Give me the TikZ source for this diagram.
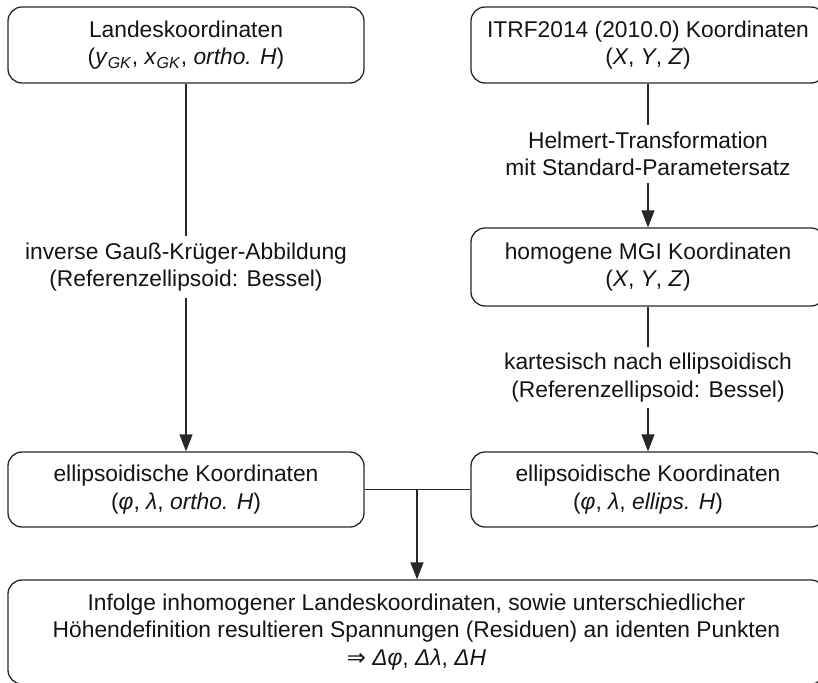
\documentclass[tikz,border=0pt]{standalone}
\usepackage{fontspec}
\setmainfont{Liberation Sans}
\newfontfamily\djv{DejaVu Sans}
\usetikzlibrary{arrows.meta}
\definecolor{ln}{RGB}{40,40,40}
\definecolor{tx}{RGB}{20,20,20}
\tikzset{
  box/.style={draw=ln, line width=1.3pt, rounded corners=14pt, inner sep=0pt, align=center, text=tx},
  lbl/.style={inner sep=0pt, align=center, text=tx},
  conn/.style={draw=ln, line width=1.3pt},
  arr/.style={conn, -{Triangle[length=17pt,width=13pt]}}
}
\begin{document}
\begin{tikzpicture}[x=1pt,y=-1pt,font=\fontsize{22.8}{27.5}\selectfont]
\clip (0,0) rectangle (818,682);
\useasboundingbox (0,0) rectangle (818,682);
\node[box, minimum width=356pt, minimum height=76pt] (A) at (186,45)
  {Landeskoordinaten\\(\textit{y}\textsubscript{\textit{GK}}, \textit{x}\textsubscript{\textit{GK}}, \textit{ortho. H})};
\node[box, minimum width=354pt, minimum height=76pt] (B) at (648,45)
  {ITRF2014 (2010.0) Koordinaten\\(\textit{X}, \textit{Y}, \textit{Z})};
\node[box, minimum width=354pt, minimum height=78pt] (C) at (648,267)
  {homogene MGI Koordinaten\\(\textit{X}, \textit{Y}, \textit{Z})};
\node[box, minimum width=356pt, minimum height=75pt] (D) at (186,489.5)
  {ellipsoidische Koordinaten\\(\textit{φ}, \textit{λ}, \textit{ortho. H})};
\node[box, minimum width=354pt, minimum height=75pt] (E) at (648,489.5)
  {ellipsoidische Koordinaten\\(\textit{φ}, \textit{λ}, \textit{ellips. H})};
\node[box, minimum width=817pt, minimum height=104pt] (F) at (416.5,632)
  {Infolge inhomogener Landeskoordinaten, sowie unterschiedlicher\\Höhendefinition resultieren Spannungen (Residuen) an identen Punkten\\{\djv ⇒} \textit{Δφ}, \textit{Δλ}, \textit{ΔH}};
\node[lbl, minimum height=62pt] (L1) at (186,267)
  {inverse Gauß-Krüger-Abbildung\\(Referenzellipsoid: Bessel)};
\node[lbl, minimum height=58pt] (L2) at (648,154)
  {Helmert-Transformation\\mit Standard-Parametersatz};
\node[lbl, minimum height=61pt] (L3) at (648,377.5)
  {kartesisch nach ellipsoidisch\\(Referenzellipsoid: Bessel)};
\draw[conn] (A) -- (L1);
\draw[arr] (L1) -- (D);
\draw[conn] (B) -- (L2);
\draw[arr] (L2) -- (C);
\draw[conn] (C) -- (L3);
\draw[arr] (L3) -- (E);
\draw[conn] (D.east) -- (E.west);
\coordinate (J) at (417,489.5);
\draw[arr] (J) -- (J |- F.north);
\end{tikzpicture}
\end{document}
